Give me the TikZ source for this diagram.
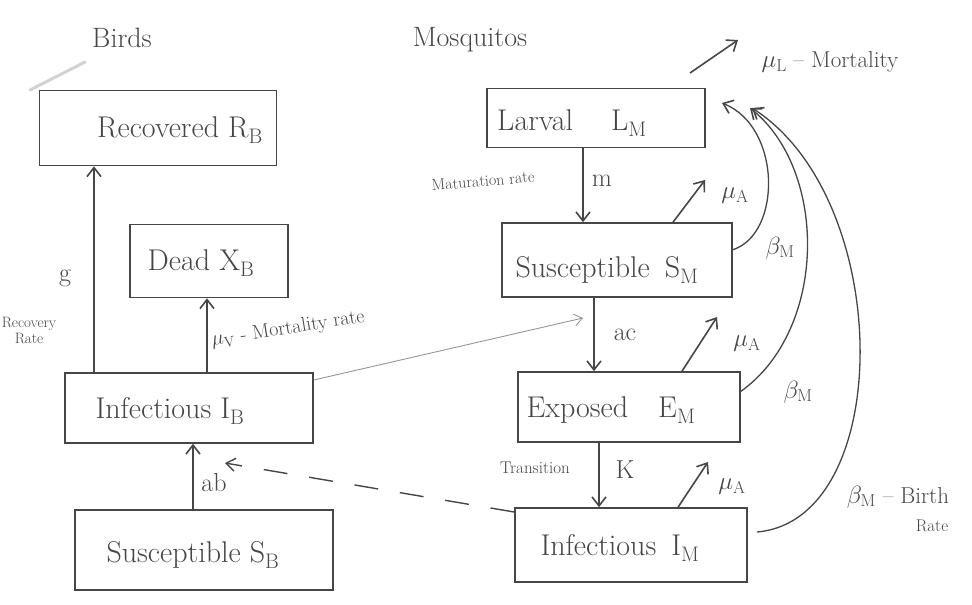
\documentclass[tikz,border=0pt]{standalone}
\usetikzlibrary{arrows.meta}
\definecolor{ink}{RGB}{70,70,70}
\definecolor{faint}{RGB}{150,150,150}
\begin{document}
\begin{tikzpicture}[x=1pt,y=-1pt,
  box/.style={draw=ink, line width=1.6pt, minimum width=#1, inner sep=0pt},
  lbl/.style={text=ink, font=\fontsize{30}{34}\selectfont, inner sep=0pt},
  rate/.style={text=ink, font=\fontsize{26}{30}\selectfont, inner sep=0pt},
  small/.style={text=ink, font=\fontsize{15}{16}\selectfont, inner sep=0pt, align=center},
  note/.style={text=ink, font=\fontsize{24}{28}\selectfont, inner sep=0pt},
  flow/.style={draw=ink, line width=1.6pt, -{Straight Barb[length=9pt,width=14pt,line width=1.6pt]}},
  ghost/.style={draw=faint, line width=0.9pt, -{Straight Barb[length=8pt,width=12pt,line width=0.9pt]}}
]
\useasboundingbox (0,0) rectangle (972,605);

% ---------------- Birds ----------------
\node[text=ink, font=\fontsize{28}{32}\selectfont] (birds) at (122,38) {Birds};
\coordinate (sm1) at (85,62);
\coordinate (sm2) at (30,90);
\draw[draw=gray!35, line width=3pt, line cap=round] (sm1) -- (sm2);

\node[box=237pt, minimum height=75pt] (RB) at (158,128) {};
\node[lbl] (RBt) at (180,130) {Recovered R\textsubscript{B}};

\node[box=158pt, minimum height=73pt] (XB) at (209,261) {};
\node[lbl] (XBt) at (201,263) {Dead X\textsubscript{B}};

\node[box=248pt, minimum height=70pt] (IB) at (189,408) {};
\node[lbl] (IBt) at (170,411) {Infectious I\textsubscript{B}};

\node[box=258pt, minimum height=80pt] (SB) at (204,550) {};
\node[lbl] (SBt) at (193,555) {Susceptible S\textsubscript{B}};

% g (recovery)
\coordinate (gx) at (94,0);
\draw[flow] (IB.north -| gx) -- (RB.south -| gx);
\node[rate] (g) at (65,278) {g};
\node[small] (recrate) at (29,330) {Recovery\\Rate};

% mu_V
\coordinate (mvx) at (207,0);
\draw[flow] (IB.north -| mvx) -- (XB.south -| mvx);
\node[note, font=\fontsize{20}{24}\selectfont, rotate=9] (muV) at (288,329) {$\mu_{\mathrm{V}}$ - Mortality rate};

% ab
\coordinate (abx) at (193,0);
\draw[flow] (SB.north -| abx) -- (IB.south -| abx);
\node[rate] (ab) at (214,483) {ab};

% ---------------- Mosquitos ----------------
\node[text=ink, font=\fontsize{28}{32}\selectfont] (mosq) at (470,40) {Mosquitos};

\node[box=218pt, minimum height=59pt] (LM) at (596,118) {};
\node[lbl] (LMt) at (572,123) {Larval\hspace{38pt}L\textsubscript{M}};

\node[box=230pt, minimum height=74pt] (SM) at (617,260) {};
\node[lbl] (SMt) at (607,270) {Susceptible\enspace S\textsubscript{M}};

\node[box=222pt, minimum height=70pt] (EM) at (629,407) {};
\node[lbl] (EMt) at (611,410) {Exposed\quad E\textsubscript{M}};

\node[box=232pt, minimum height=74pt] (IM) at (631,545) {};
\node[lbl] (IMt) at (620,548) {Infectious\enspace I\textsubscript{M}};

% mu_L
\coordinate (muLs) at (690,73);
\coordinate (muLe) at (738,40);
\draw[flow] (muLs) -- (muLe);
\node[note, font=\fontsize{23}{26}\selectfont] (muL) at (830,62) {$\mu_{\mathrm{L}}$ -- Mortality};

% m
\coordinate (mx) at (583,0);
\draw[flow] (LM.south -| mx) -- (SM.north -| mx);
\node[rate] (m) at (602,181) {m};
\node[small, font=\fontsize{16}{18}\selectfont, rotate=5] (mat) at (483,181) {Maturation rate};

% ac
\coordinate (acx) at (594,0);
\draw[flow] (SM.south -| acx) -- (EM.north -| acx);
\node[rate] (ac) at (625,335) {ac};

% K
\coordinate (kx) at (599,0);
\draw[flow] (EM.south -| kx) -- (IM.north -| kx);
\node[rate] (K) at (625,470) {K};
\node[small, font=\fontsize{17}{18}\selectfont] (trans) at (535,468) {Transition};

% mu_A arrows
\coordinate (a1s) at (673,223);
\coordinate (a1e) at (705,180);
\draw[flow] (SM.north -| a1s) -- (a1e);
\node[note] (muA1) at (735,196) {$\mu_{\mathrm{A}}$};

\coordinate (a2s) at (682,372);
\coordinate (a2e) at (717,317);
\draw[flow] (EM.north -| a2s) -- (a2e);
\node[note] (muA2) at (747,344) {$\mu_{\mathrm{A}}$};

\coordinate (a3s) at (678,508);
\coordinate (a3e) at (708,462);
\draw[flow] (IM.north -| a3s) -- (a3e);
\node[note] (muA3) at (732,487) {$\mu_{\mathrm{A}}$};

% beta_M births back to larvae
\coordinate (b1s) at (732,250);
\coordinate (b1e) at (722,103);
\draw[flow, line width=1.3pt] (b1s) .. controls (782,235) and (782,127) .. (b1e);
\node[note] (bM1) at (780,248) {$\beta_{\mathrm{M}}$};

\coordinate (b2s) at (740,392);
\coordinate (b2e) at (750,108);
\draw[flow, line width=1.3pt] (b2s) .. controls (828,330) and (828,170) .. (b2e);
\node[note] (bM2) at (798,392) {$\beta_{\mathrm{M}}$};

\coordinate (b3s) at (757,532);
\coordinate (b3e) at (752,108);
\draw[flow, line width=1.3pt] (b3s) .. controls (895,520) and (895,200) .. (b3e);
\node[note, font=\fontsize{23}{26}\selectfont] (bM3) at (898,497) {$\beta_{\mathrm{M}}$ -- Birth};
\node[small, font=\fontsize{17}{18}\selectfont] (birthrate) at (932,526) {Rate};

% cross-species transmission
\coordinate (dashend) at (225,463);
\draw[draw=ink, line width=1.4pt, dash pattern=on 24pt off 22pt,
      -{Straight Barb[length=9pt,width=13pt,line width=1.4pt]}]
      (IM.west |- 0,512) -- (dashend);
\coordinate (gend) at (583,318);
\draw[ghost] (IB.east |- 0,380) -- (gend);
\end{tikzpicture}
\end{document}
